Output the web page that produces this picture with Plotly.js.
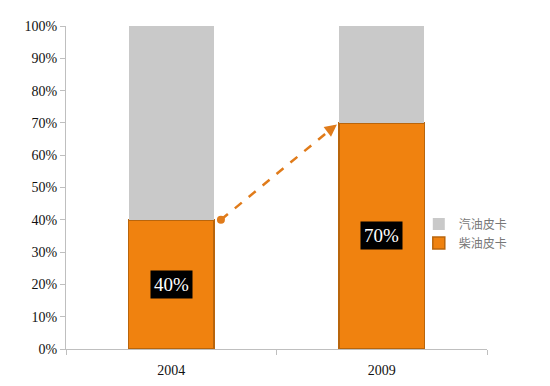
<!DOCTYPE html>
<html>
<head>
<meta charset="utf-8">
<script src="https://cdn.plot.ly/plotly-3.0.1.min.js"></script>
<style>html,body{margin:0;padding:0;background:#fff;}#chart{width:550px;height:386px;}</style>
</head>
<body>
<div id="chart"></div>
<script>
var categories = ['2004', '2009'];
var diesel = [40, 70];      // 柴油皮卡
var gasoline = [60, 30];    // 汽油皮卡
var seriesNames = ['柴油皮卡', '汽油皮卡'];
var yTickVals = [0,10,20,30,40,50,60,70,80,90,100];

var orange = '#F0820F', orangeDark = '#B9650C', gray = '#C9C9C9';
var serif = 'Liberation Serif, DejaVu Serif, serif';

var traces = [
  {type:'bar', name: seriesNames[0], x: categories, y: diesel,
   marker:{color: orange, line:{color: orangeDark, width:1.5}}, width:0.405, hoverinfo:'none'},
  {type:'bar', name: seriesNames[1], x: categories, y: gasoline,
   marker:{color: gray, line:{width:0}}, width:0.405, hoverinfo:'none'}
];

var annotations = categories.map(function(c, i){
  return {x: i, y: diesel[i]/2, xref:'x', yref:'y', text: diesel[i] + '%', showarrow:false,
          bgcolor:'#000', borderpad:3, font:{family: serif, size:19, color:'#fff'}};
});
// arrowhead at 2009 bar
var startX = 0 + 0.236, endX = 1 - 0.213;
annotations.push({x: endX, y: diesel[1] - 0.5, xref:'x', yref:'y', ax: endX - 0.03, ay: diesel[1] - 2,
  axref:'x', ayref:'y', showarrow:true, arrowhead:2, arrowsize:1.1, arrowwidth:2.2, arrowcolor:'#E07B1A', text:''});

var shapes = [
  {type:'line', xref:'x', yref:'y', x0: startX, y0: diesel[0], x1: endX - 0.02, y1: diesel[1] - 1.5,
   line:{color:'#E07B1A', width:2.5, dash:'dash'}},
  {type:'circle', xref:'x', yref:'y', xsizemode:'pixel', ysizemode:'pixel', xanchor: startX, yanchor: diesel[0],
   x0:-4, x1:4, y0:-4, y1:4, fillcolor:'#E07B1A', line:{width:0}}
];

var layout = {
  width:550, height:386,
  margin:{l:66, r:63, t:26, b:37},
  paper_bgcolor:'#fff', plot_bgcolor:'#fff',
  barmode:'stack', bargap:0.595,
  showlegend:true,
  legend:{x:0.838, y:0.432, xanchor:'left', yanchor:'top', traceorder:'reversed',
          font:{family:'Noto Sans CJK SC, sans-serif', size:12, color:'#777'},
          itemwidth:30, tracegroupgap:0, bgcolor:'rgba(0,0,0,0)'},
  xaxis:{type:'category', range:[-0.5,1.5], showline:true, linecolor:'#BFBFBF', linewidth:1,
         ticks:'outside', tickson:'boundaries', ticklen:5, tickcolor:'#BFBFBF', ticklabelstandoff:8,
         showgrid:false, zeroline:false, fixedrange:true,
         tickfont:{family: serif, size:14, color:'#111'}},
  yaxis:{range:[0,100], tickvals: yTickVals, ticktext: yTickVals.map(function(v){return v+'%';}),
         showline:true, linecolor:'#BFBFBF', linewidth:1, ticks:'outside', ticklen:5, tickcolor:'#BFBFBF',
         showgrid:false, zeroline:false, fixedrange:true,
         tickfont:{family: serif, size:14, color:'#111'}},
  annotations: annotations,
  shapes: shapes
};

Plotly.newPlot('chart', traces, layout, {displayModeBar:false, staticPlot:true});
</script>
</body>
</html>
